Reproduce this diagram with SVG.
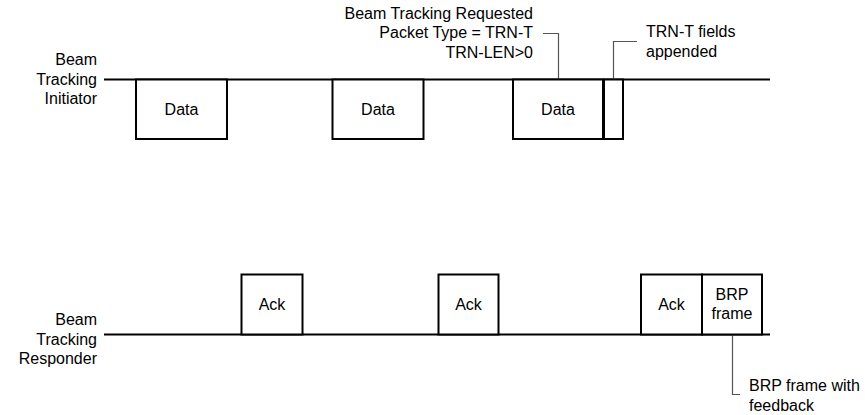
<svg xmlns="http://www.w3.org/2000/svg" width="865" height="415" viewBox="0 0 865 415">
<style>
text{font-family:"Liberation Sans",Arial,sans-serif;font-size:16px;fill:#000}
.r{text-anchor:end}
.m{text-anchor:middle}
.box{fill:#fff;stroke:#000;stroke-width:2}
.tl{fill:none;stroke:#000;stroke-width:2}
.ld{fill:none;stroke:#555;stroke-width:1.2}
</style>
<rect width="865" height="415" fill="#fff"/>
<g id="connectors">
<line class="tl" x1="104" y1="79.5" x2="770" y2="79.5"/>
<line class="tl" x1="104" y1="334.5" x2="770" y2="334.5"/>
<polyline class="ld" points="543,33.5 558.5,33.5 558.5,79"/>
<polyline class="ld" points="613.5,79 613.5,41.5 637,41.5"/>
<polyline class="ld" points="732.5,335 732.5,394.5 740,394.5"/>
</g>
<g id="initiator-label">
<text class="r" x="97" y="65">Beam</text>
<text class="r" x="97" y="84.5">Tracking</text>
<text class="r" x="97" y="104">Initiator</text>
</g>
<g id="responder-label">
<text class="r" x="97" y="325">Beam</text>
<text class="r" x="97" y="344.5">Tracking</text>
<text class="r" x="97" y="364">Responder</text>
</g>
<g id="data1">
<rect class="box" x="136" y="79.5" width="91" height="59.5"/>
<text class="m" x="181.5" y="115">Data</text>
</g>
<g id="data2">
<rect class="box" x="332.5" y="79.5" width="91" height="59.5"/>
<text class="m" x="378" y="115">Data</text>
</g>
<g id="data3">
<rect class="box" x="513" y="79.5" width="90" height="59.5"/>
<text class="m" x="558" y="115">Data</text>
</g>
<g id="trn-t">
<rect class="box" x="604" y="79.5" width="19" height="59.5"/>
</g>
<g id="ack1">
<rect class="box" x="241.5" y="274.5" width="61" height="60"/>
<text class="m" x="272" y="310">Ack</text>
</g>
<g id="ack2">
<rect class="box" x="438.5" y="274.5" width="60" height="60"/>
<text class="m" x="468.5" y="310">Ack</text>
</g>
<g id="ack3">
<rect class="box" x="641" y="274.5" width="61" height="60"/>
<text class="m" x="671.5" y="310">Ack</text>
</g>
<g id="brp">
<rect class="box" x="702" y="274.5" width="60" height="60"/>
<text class="m" x="732" y="299.5">BRP</text>
<text class="m" x="732" y="318.5">frame</text>
</g>
<g id="note-request">
<text class="r" x="533" y="18.5">Beam Tracking Requested</text>
<text class="r" x="533" y="38">Packet Type = TRN-T</text>
<text class="r" x="533" y="57.5">TRN-LEN&gt;0</text>
</g>
<g id="note-trn">
<text x="646" y="37">TRN-T fields</text>
<text x="646" y="56.5">appended</text>
</g>
<g id="note-brp">
<text x="749" y="391">BRP frame with</text>
<text x="749" y="410.5">feedback</text>
</g>
</svg>
